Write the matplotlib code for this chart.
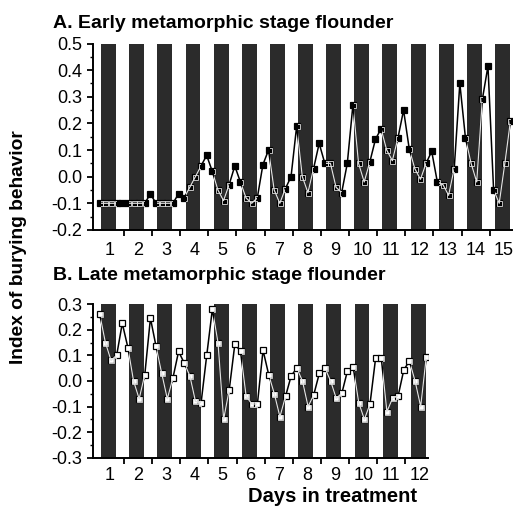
import matplotlib as mpl

mpl.use('Agg')
import matplotlib.pyplot as plt
import numpy as np
from matplotlib.ticker import MultipleLocator, FixedLocator

plt.rcParams['font.family'] = ['Liberation Sans', 'DejaVu Sans']

# fraction of each day where the 5 daily observations were made
obs_offsets = [0.14, 0.34, 0.54, 0.74, 0.94]
# dark period of each day (fraction of day)
dark_start, dark_end = 0.19, 0.72

days_a = list(range(1, 16))
index_a = [
    -0.10, -0.10, -0.10, -0.10, -0.10,
    -0.10, -0.10, -0.10, -0.10, -0.065,
    -0.10, -0.10, -0.10, -0.10, -0.065,
    -0.08, -0.04, 0.00, 0.04, 0.08,
    0.02, -0.05, -0.09, -0.03, 0.04,
    -0.02, -0.08, -0.10, -0.08, 0.045,
    0.10, -0.05, -0.10, -0.045, 0.00,
    0.19, 0.00, -0.06, 0.03, 0.125,
    0.05, 0.05, -0.04, -0.06, 0.05,
    0.27, 0.05, -0.02, 0.055, 0.14,
    0.18, 0.10, 0.06, 0.145, 0.25,
    0.105, 0.03, -0.01, 0.05, 0.095,
    -0.02, -0.03, -0.07, 0.03, 0.35,
    0.145, 0.05, -0.02, 0.29, 0.415,
    -0.05, -0.10, 0.05, 0.21,
]

days_b = list(range(1, 13))
index_b = [
    0.26, 0.15, 0.08, 0.10, 0.225,
    0.13, 0.00, -0.07, 0.025, 0.245,
    0.135, 0.03, -0.07, 0.012, 0.115,
    0.07, 0.02, -0.08, -0.085, 0.10,
    0.28, 0.15, -0.15, -0.034, 0.145,
    0.115, -0.06, -0.09, -0.09, 0.12,
    0.025, -0.05, -0.14, -0.06, 0.02,
    0.05, 0.00, -0.10, -0.055, 0.03,
    0.05, 0.00, -0.068, -0.048, 0.04,
    0.056, -0.085, -0.15, -0.09, 0.09,
    0.09, -0.12, -0.068, -0.058, 0.043,
    0.078, 0.00, -0.10, 0.095,
]


def obs_times(n):
    return np.array([i // 5 + obs_offsets[i % 5] for i in range(n)])


def panel(ax, days, values, ylim, xlim, filled, xpad):
    x = obs_times(len(values))
    bars = []
    for d in days:
        bars.append(ax.axvspan(d - 1 + dark_start, d - 1 + dark_end,
                               color='#2b2b2b', lw=0, zorder=1))
    mfc = 'black' if filled else 'white'
    ax.plot(x, values, color='black', lw=1.1, marker='s', ms=4.3,
            mfc=mfc, mec='black', mew=0.9, zorder=2)
    for b in bars:
        ln, = ax.plot(x, values, color='#e0e0e0', lw=0.9, marker='s', ms=3.6,
                      mfc='none', mec='#e0e0e0', mew=0.6, zorder=3)
        ln.set_clip_path(b)
    ax.set_xlim(*xlim)
    ax.set_ylim(*ylim)
    ax.spines['top'].set_visible(False)
    ax.spines['right'].set_visible(False)
    ax.spines['left'].set_linewidth(1.4)
    ax.spines['bottom'].set_linewidth(1.4)
    ax.xaxis.set_major_locator(FixedLocator(days[:-1]))
    ax.xaxis.set_minor_locator(FixedLocator([d - 0.5 for d in days]))
    ax.set_xticklabels([])
    ax.set_xticklabels([str(d) for d in days], minor=True)
    ax.tick_params(axis='x', which='major', direction='out', length=4, width=1.3)
    ax.tick_params(axis='x', which='minor', length=0, pad=xpad, labelsize=13)
    ax.yaxis.set_major_locator(MultipleLocator(0.1))
    ax.yaxis.set_minor_locator(MultipleLocator(0.05))
    ax.yaxis.set_major_formatter(mpl.ticker.FormatStrFormatter('%.1f'))
    ax.tick_params(axis='y', which='major', direction='out', length=4, width=1.3,
                   labelsize=13, pad=4)
    ax.tick_params(axis='y', which='minor', direction='out', length=2.5, width=1)


fig = plt.figure(figsize=(5.13, 5.12), dpi=100)
ax1 = fig.add_axes([93 / 513, 0.551, 420 / 513, 0.364])
panel(ax1, days_a, index_a, (-0.2, 0.5), (-0.1, 14.83), True, 9)
ax2 = fig.add_axes([93 / 513, 0.106, 335 / 513, 0.300])
panel(ax2, days_b, index_b, (-0.3, 0.3), (-0.1, 11.8), False, 7)

fig.text(53 / 513, 1 - 24 / 512, 'A. Early metamorphic stage flounder',
         fontsize=14, fontweight='bold', va='center', ha='left')
fig.text(53 / 513, 1 - 276 / 512, 'B. Late metamorphic stage flounder',
         fontsize=14, fontweight='bold', va='center', ha='left')
fig.text(19 / 513, 1 - 247 / 512, 'Index of burying behavior', rotation=90,
         fontsize=13.8, fontweight='bold', va='center', ha='center')
fig.text(332 / 513, 1 - 497 / 512, 'Days in treatment',
         fontsize=14.5, fontweight='bold', va='center', ha='center')

fig.savefig('out.png', dpi=100)
